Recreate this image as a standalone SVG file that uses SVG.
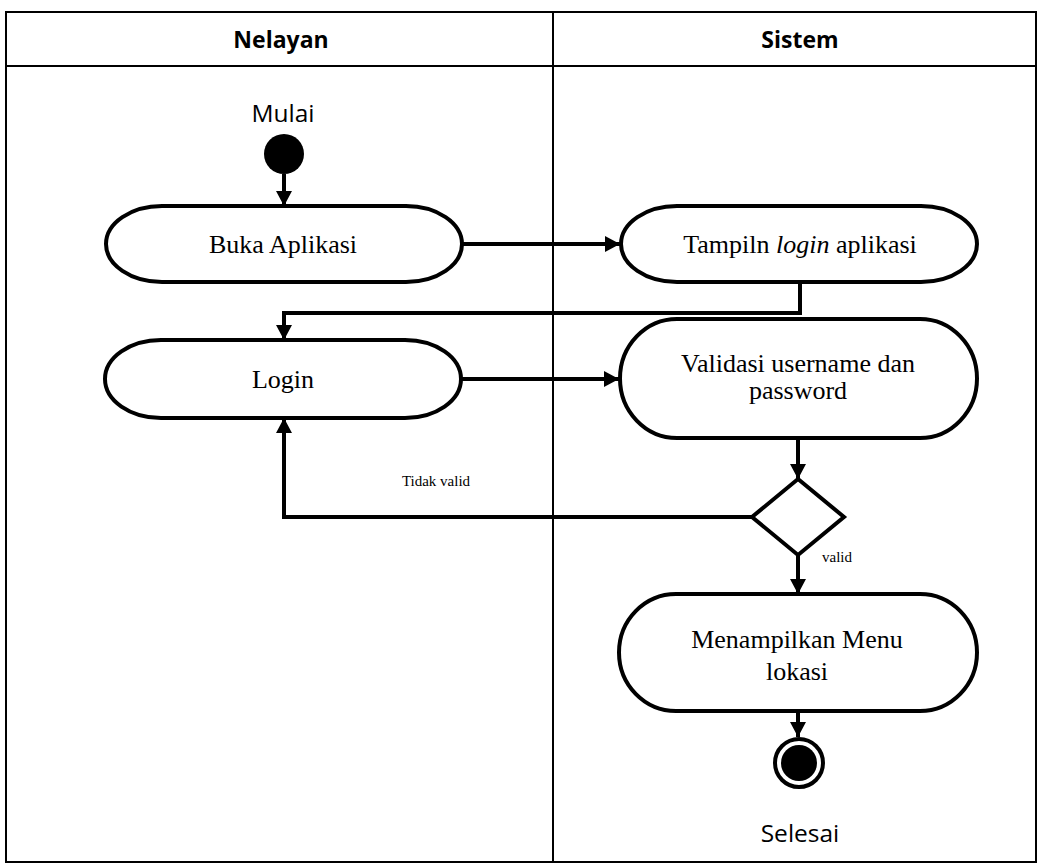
<svg xmlns="http://www.w3.org/2000/svg" width="1041" height="866" viewBox="0 0 1041 866">
  <style>
    .lane { fill: none; stroke: #000; stroke-width: 2; }
    .head { font-family: "Open Sans", "Liberation Sans", sans-serif; font-weight: bold; font-size: 23px; fill: #000; text-anchor: middle; }
    .cap { font-family: "Open Sans", "Liberation Sans", sans-serif; font-size: 24.5px; fill: #000; text-anchor: middle; }
    .act { fill: #fff; stroke: #000; stroke-width: 4; }
    .lbl { font-family: "Liberation Serif", "Times New Roman", serif; font-size: 26px; fill: #000; text-anchor: middle; }
    .small { font-family: "Liberation Serif", "Times New Roman", serif; font-size: 15px; fill: #000; text-anchor: middle; }
    .flow { fill: none; stroke: #000; stroke-width: 4; marker-end: url(#arrow); }
  </style>
  <defs>
    <marker id="arrow" markerUnits="userSpaceOnUse" markerWidth="16" markerHeight="16" refX="15" refY="8" orient="auto">
      <path d="M0,0 L15,8 L0,16 Z" fill="#000"/>
    </marker>
  </defs>

  <rect width="1041" height="866" fill="#fff"/>

  <!-- swimlane table -->
  <g id="lanes">
    <rect class="lane" x="6" y="12" width="1030" height="850"/>
    <line class="lane" x1="6" y1="66" x2="1036" y2="66"/>
    <line class="lane" x1="553" y1="12" x2="553" y2="862"/>
    <text class="head" x="281" y="48">Nelayan</text>
    <text class="head" x="800" y="48">Sistem</text>
  </g>

  <!-- connectors -->
  <g id="connectors">
    <path class="flow" d="M284,174 V206"/>
    <path class="flow" d="M463,244 H620"/>
    <path class="flow" d="M800,283 V313 H284 V340"/>
    <path class="flow" d="M462,379 H619"/>
    <path class="flow" d="M798,438 V479"/>
    <path class="flow" d="M752,517 H284 V418"/>
    <path class="flow" d="M798,555 V594"/>
    <path class="flow" d="M798,711 V737"/>
    <text class="small" x="436" y="486">Tidak valid</text>
    <text class="small" x="837" y="562">valid</text>
  </g>

  <!-- start -->
  <g id="start">
    <text class="cap" x="283" y="122">Mulai</text>
    <circle cx="284" cy="154" r="20" fill="#000"/>
  </g>

  <g id="buka-aplikasi">
    <path class="act" d="M162,206 H406 A56,38 0 0 1 406,282 H162 A56,38 0 0 1 162,206 Z"/>
    <text class="lbl" x="283" y="253">Buka Aplikasi</text>
  </g>

  <g id="tampil-login">
    <path class="act" d="M677,206 H921 A56,38 0 0 1 921,282 H677 A56,38 0 0 1 677,206 Z"/>
    <text class="lbl" x="800" y="253">Tampiln <tspan font-style="italic">login</tspan> aplikasi</text>
  </g>

  <g id="login">
    <path class="act" d="M161,340 H405 A56,39 0 0 1 405,418 H161 A56,39 0 0 1 161,340 Z"/>
    <text class="lbl" x="283" y="388">Login</text>
  </g>

  <g id="validasi">
    <path class="act" d="M677,319 H920 A57,59.5 0 0 1 920,438 H677 A57,59.5 0 0 1 677,319 Z"/>
    <text class="lbl" x="798" y="372" font-size="24">Validasi username dan</text>
    <text class="lbl" x="798" y="399" font-size="24">password</text>
  </g>

  <g id="decision">
    <path class="act" d="M798,479 L844,517 L798,555 L752,517 Z"/>
  </g>

  <g id="menu-lokasi">
    <path class="act" d="M676,594 H920 A57,58.5 0 0 1 920,711 H676 A57,58.5 0 0 1 676,594 Z"/>
    <text class="lbl" x="797" y="648">Menampilkan Menu</text>
    <text class="lbl" x="797" y="680">lokasi</text>
  </g>

  <!-- end -->
  <g id="end">
    <circle cx="799" cy="763" r="24" fill="#fff" stroke="#000" stroke-width="4"/>
    <circle cx="799" cy="763" r="18" fill="#000"/>
    <text class="cap" x="800" y="842">Selesai</text>
  </g>
</svg>
